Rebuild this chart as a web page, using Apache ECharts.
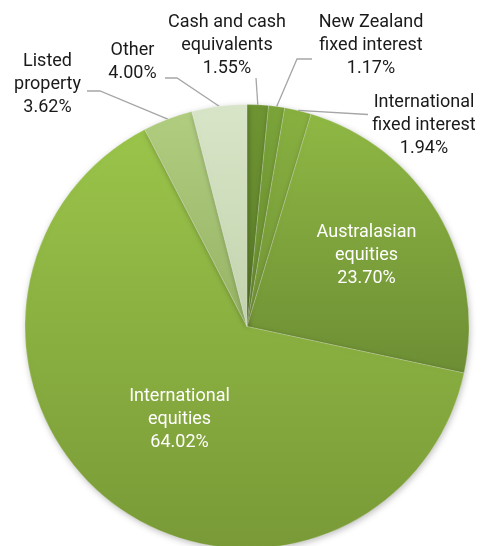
<!DOCTYPE html>
<html><head><meta charset="utf-8">
<script src="https://cdn.jsdelivr.net/npm/echarts@6/dist/echarts.min.js"></script>
<style>html,body{margin:0;padding:0;background:#fff}#c{width:483px;height:546px}</style>
</head><body><div id="c"></div>
<script>
// ---- data ----
const categories = ['Cash and cash\nequivalents', 'New Zealand\nfixed interest', 'International\nfixed interest', 'Australasian\nequities', 'International\nequities', 'Listed\nproperty', 'Other'];
const percentages = [1.55, 1.17, 1.94, 23.70, 64.02, 3.62, 4.00];

// ---- styling / layout ----
const CX = 247, CY = 326.5, R = 222;
const gradTop = ['#6e9432', '#7ba43a', '#88b040', '#8fb844', '#9ac44a', '#b0cd80', '#d8e5c8'];
const gradBot = ['#5c7f29', '#688c30', '#729537', '#6d8e34', '#799a37', '#97b465', '#c3d4ad'];
const inside = [false, false, false, true, true, false, false];
// label centre offsets from pie centre, and leader bend/end offsets
const spots = [
  { l: [-20, -281.5], b: [9, -248.5], e: [9, -248.5] },
  { l: [124, -281.5], b: [50, -267.5], e: [65, -267.5] },
  { l: [177, -201.5], b: [121, -212], e: [121, -212] },
  { l: [119.5, -71.5] },
  { l: [-67.5, 92.5] },
  { l: [-199.5, -242], b: [-147, -235.5], e: [-160, -235.5] },
  { l: [-114.5, -265], b: [-70, -248.5], e: [-82, -248.5] }
];
const total = percentages.reduce((a, b) => a + b, 0);
const cum = [];
percentages.reduce((acc, v, i) => { cum[i] = acc; return acc + v; }, 0);

const chart = echarts.init(document.getElementById('c'));
chart.setOption({
  animation: false,
  textStyle: { fontFamily: 'Roboto' },
  series: [{
    type: 'pie',
    center: [CX, CY],
    radius: R,
    startAngle: 90,
    clockwise: true,
    avoidLabelOverlap: false,
    data: categories.map((name, i) => ({
      name: name,
      value: percentages[i],
      itemStyle: {
        color: new echarts.graphic.LinearGradient(0, 0, 0, 1, [
          { offset: 0, color: gradTop[i] }, { offset: 1, color: gradBot[i] }
        ])
      },
      label: inside[i]
        ? { position: 'inside', color: '#ffffff' }
        : { position: 'outside', color: '#1a1a1a' },
      labelLine: { show: !inside[i] }
    })),
    itemStyle: {
      borderColor: 'rgba(255,255,255,0.35)',
      borderWidth: 0.6,
      shadowBlur: 6,
      shadowOffsetX: 1,
      shadowOffsetY: 2,
      shadowColor: 'rgba(0,0,0,0.25)'
    },
    label: {
      fontFamily: 'Roboto',
      fontSize: 18,
      lineHeight: 23,
      align: 'center',
      formatter: p => p.name + '\n' + p.value.toFixed(2) + '%'
    },
    labelLine: {
      lineStyle: { color: '#a6a6a6', width: 1.3 }
    },
    emphasis: { disabled: true },
    labelLayout: function (params) {
      const i = params.dataIndex;
      const s = spots[i];
      const out = {
        x: CX + s.l[0], y: CY + s.l[1],
        align: 'center', verticalAlign: 'middle'
      };
      if (s.b) {
        const th = (cum[i] + percentages[i] / 2) / total * Math.PI * 2;
        const a = [CX + R * Math.sin(th), CY - R * Math.cos(th)];
        out.labelLinePoints = [a, [CX + s.b[0], CY + s.b[1]], [CX + s.e[0], CY + s.e[1]]];
      }
      return out;
    }
  }]
});
</script>
</body></html>
